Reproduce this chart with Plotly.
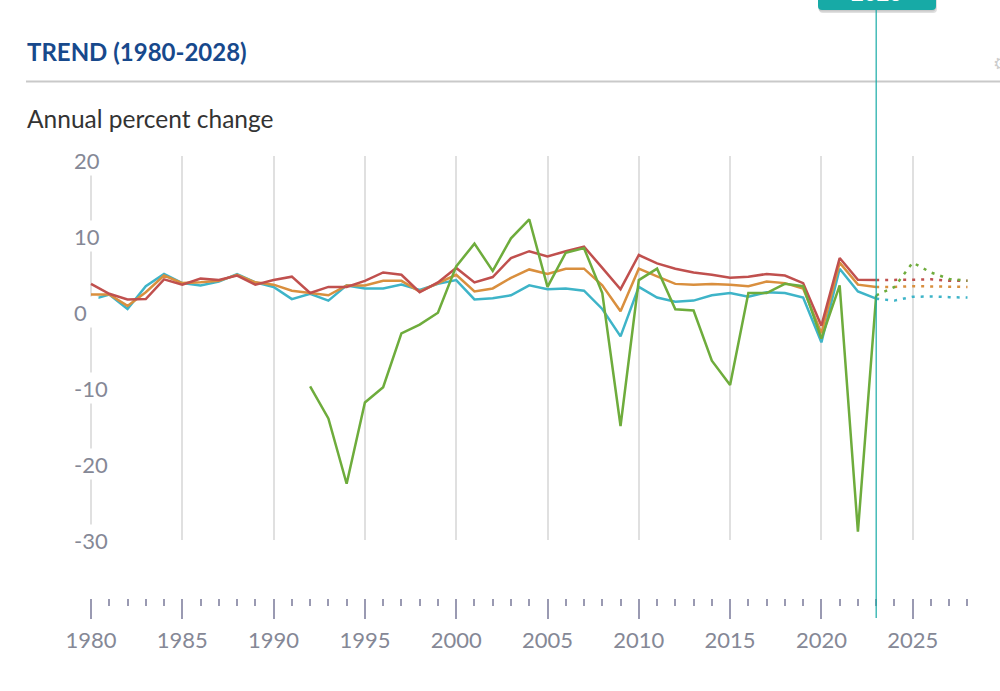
import plotly.graph_objects as go

# ---------------- data ----------------
years = list(range(1980, 2024))
red = [3.7, 2.4, 1.65, 1.7, 4.3, 3.6, 4.4, 4.2, 4.8, 3.6,
       4.2, 4.65, 2.5, 3.3, 3.3, 4.1, 5.2, 4.9, 2.6, 3.9,
       5.8, 3.9, 4.6, 7.1, 8.0, 7.3, 8.0, 8.6, 5.8, 3.0,
       7.5, 6.4, 5.7, 5.2, 4.9, 4.5, 4.65, 5.0, 4.8, 3.8,
       -1.8, 7.1, 4.25, 4.2]
orange = [2.3, 2.3, 0.8, 2.6, 4.8, 3.8, 3.9, 4.1, 4.9, 3.9,
          3.6, 2.8, 2.5, 2.2, 3.5, 3.5, 4.1, 4.1, 2.7, 3.8,
          4.9, 2.7, 3.1, 4.5, 5.6, 5.0, 5.7, 5.7, 3.5, 0.1,
          5.7, 4.7, 3.7, 3.6, 3.7, 3.6, 3.4, 4.0, 3.8, 3.1,
          -2.8, 6.5, 3.6, 3.3]
cyan = [1.6, 2.3, 0.4, 3.4, 5.0, 3.8, 3.5, 4.0, 5.0, 3.9,
        3.3, 1.7, 2.4, 1.5, 3.5, 3.1, 3.1, 3.6, 2.9, 3.7,
        4.2, 1.65, 1.8, 2.2, 3.5, 3.0, 3.1, 2.8, 0.4, -3.2,
        3.3, 1.9, 1.35, 1.5, 2.2, 2.5, 2.0, 2.6, 2.5, 1.9,
        -4.0, 5.7, 2.7, 1.75]
green = [None] * 12 + [
    -9.8, -14.0, -22.6, -11.9, -9.9, -2.8, -1.65, -0.1,
    6.0, 9.0, 5.4, 9.7, 12.2, 3.3, 7.8, 8.4, 2.5, -15.0,
    4.2, 5.7, 0.35, 0.2, -6.4, -9.6, 2.5, 2.5, 3.7, 3.4,
    -3.5, 3.5, -28.9, 2.2]

fc_years = [2023, 2024, 2025, 2026, 2027, 2028]
red_fc = [4.2, 4.2, 4.25, 4.3, 4.1, 4.1]
orange_fc = [3.3, 3.3, 3.4, 3.35, 3.35, 3.3]
cyan_fc = [1.75, 1.5, 2.0, 2.05, 1.95, 1.9]
green_fc = [2.2, 3.3, 6.5, 5.2, 4.35, 4.1]

x_major_ticks = [1980, 1985, 1990, 1995, 2000, 2005, 2010, 2015, 2020, 2025]
x_tick_text = ["1980", "1985", "1990", "1995", "2000", "2005", "2010", "2015", "2020", "2025"]
x_minor_ticks = [y for y in range(1980, 2029) if y % 5 != 0]
y_tick_vals = [20, 10, 0, -10, -20, -30]
y_tick_text = ["20", "10", "0", "-10", "-20", "-30"]
current_year = 2023
title_text = "TREND (1980-2028)"
subtitle_text = "Annual percent change"

# ---------------- style ----------------
C_RED = "#c0504e"
C_ORANGE = "#d98f3e"
C_CYAN = "#3eb4c8"
C_GREEN = "#6eac3c"
TEAL = "#17aaa6"
FONT = "Lato, 'Open Sans', sans-serif"
LABEL_COL = "#858896"

W, H = 1000, 691


def py(px):
    return 1 - px / H


fig = go.Figure()
series = [(cyan, cyan_fc, C_CYAN), (orange, orange_fc, C_ORANGE),
          (red, red_fc, C_RED), (green, green_fc, C_GREEN)]
for vals, fc, col in series:
    fig.add_trace(go.Scatter(x=years, y=vals, mode="lines",
                             line=dict(color=col, width=2.5),
                             connectgaps=False, hoverinfo="skip"))
for vals, fc, col in series:
    fig.add_trace(go.Scatter(x=fc_years, y=fc, mode="lines",
                             line=dict(color=col, width=2.5, dash="3px,6px"),
                             hoverinfo="skip"))

x0 = 1980 - 91 / 18.26
x1 = 1980 + 909 / 18.26

fig.update_layout(
    width=W, height=H,
    margin=dict(l=0, r=0, t=0, b=0),
    paper_bgcolor="white", plot_bgcolor="white",
    showlegend=False,
    xaxis=dict(range=[x0, x1], domain=[0, 1], anchor="free", position=py(598),
               tickmode="array", tickvals=x_major_ticks, ticktext=x_tick_text,
               showgrid=True, gridcolor="#e0e0e0", gridwidth=2,
               zeroline=False, showline=False,
               ticks="outside", ticklen=20, tickwidth=1.5, tickcolor="#9a9ab2",
               ticklabelstandoff=3,
               tickfont=dict(family=FONT, size=22, color=LABEL_COL),
               minor=dict(tickmode="array", tickvals=x_minor_ticks, ticks="outside",
                          ticklen=7, tickwidth=1.5, tickcolor="#9a9ab2", showgrid=False)),
    yaxis=dict(range=[-(540 - 312) / 7.6, (312 - 156) / 7.6],
               domain=[py(540), py(156)],
               showgrid=False, zeroline=False, showticklabels=False,
               showline=False, ticks=""),
)

annotations = []
for v, t in zip(y_tick_vals, y_tick_text):
    annotations.append(dict(xref="paper", yref="y", x=71 / W, y=v,
                            xanchor="left", yanchor="middle", text=t,
                            showarrow=False, align="left",
                            width=12 * len(t) + 10, height=26,
                            bgcolor="white", borderpad=2,
                            font=dict(family=FONT, size=22, color=LABEL_COL)))
annotations.append(dict(xref="paper", yref="paper", x=25 / W, y=py(52),
                        xanchor="left", yanchor="middle", text=title_text,
                        showarrow=False,
                        font=dict(family=FONT, size=24, color="#17498c", weight="bold")))
annotations.append(dict(xref="paper", yref="paper", x=25 / W, y=py(118),
                        xanchor="left", yanchor="middle", text=subtitle_text,
                        showarrow=False,
                        font=dict(family=FONT, size=24.5, color="#333333")))
annotations.append(dict(xref="x", yref="paper", x=current_year, y=py(-8),
                        xanchor="center", yanchor="middle", text=str(current_year),
                        showarrow=False,
                        font=dict(family=FONT, size=22, color="white", weight="bold")))
annotations.append(dict(xref="paper", yref="paper", x=991 / W, y=py(63),
                        xanchor="left", yanchor="middle", text="⚙",
                        showarrow=False,
                        font=dict(family="DejaVu Sans", size=18, color="#cccccc")))

# rounded teal label box at the top
bx0, bx1, by1 = 818 / W, 936 / W, 10
rx, ry = 4 / W, 4 / H


def rounded_bottom_path(xa, xb, ybot_px, ytop_px):
    yb = py(ybot_px)
    yt = py(ytop_px)
    return (f"M{xa},{yt} L{xa},{yb + ry} Q{xa},{yb} {xa + rx},{yb} "
            f"L{xb - rx},{yb} Q{xb},{yb} {xb},{yb + ry} L{xb},{yt} Z")


shapes = [
    dict(type="line", xref="paper", yref="paper", x0=26 / W, x1=1, y0=py(81.5), y1=py(81.5),
         line=dict(color="#c9c9c9", width=2)),
    dict(type="path", xref="paper", yref="paper",
         path=rounded_bottom_path(bx0 + 1 / W, bx1 + 1 / W, by1 + 3, -20),
         fillcolor="rgba(0,0,0,0.12)", line=dict(width=0), layer="above"),
    dict(type="path", xref="paper", yref="paper",
         path=rounded_bottom_path(bx0, bx1, by1 + 1.5, -20),
         fillcolor="rgba(0,0,0,0.10)", line=dict(width=0), layer="above"),
    dict(type="path", xref="paper", yref="paper",
         path=rounded_bottom_path(bx0, bx1, by1, -20),
         fillcolor=TEAL, line=dict(width=0), layer="above"),
    dict(type="line", xref="x", yref="paper", x0=current_year, x1=current_year,
         y0=py(618), y1=py(by1), line=dict(color=TEAL, width=1.2), layer="above"),
]

fig.update_layout(annotations=annotations, shapes=shapes)
fig.write_html("out.html")
